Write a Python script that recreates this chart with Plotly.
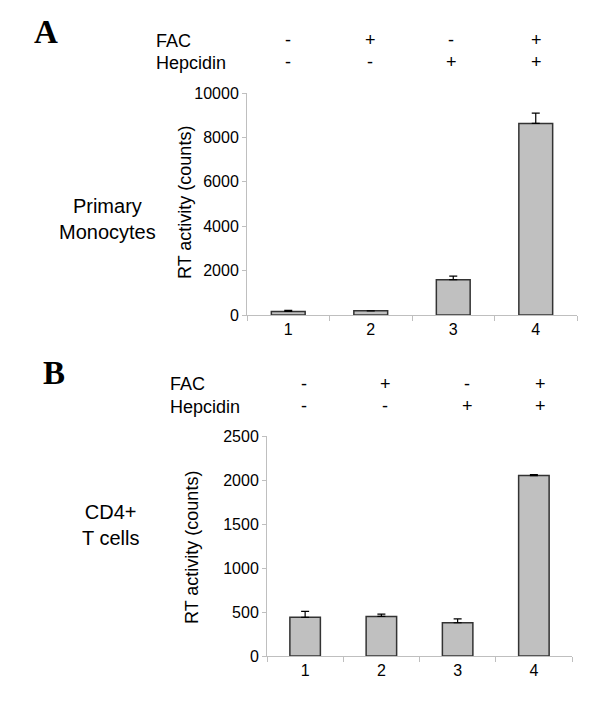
import plotly.graph_objects as go

# The page body adds an 8px margin; size the figure to fit the window and
# express positions in window pixels minus that offset.
OFF = 8
W, H = 600 - OFF, 724 - OFF

categories = ["1", "2", "3", "4"]
fac_signs = ["-", "+", "-", "+"]
hep_signs = ["-", "-", "+", "+"]

mono_values = [160, 190, 1590, 8630]
mono_errors = [45, 0, 160, 460]
mono_ticks = [0, 2000, 4000, 6000, 8000, 10000]

cd4_values = [440, 450, 378, 2050]
cd4_errors = [68, 25, 45, 10]
cd4_ticks = [0, 500, 1000, 1500, 2000, 2500]

FONT = "Liberation Sans, Arial, sans-serif"
BAR_FILL = "#c0c0c0"
BAR_LINE = "#333333"
AXIS_COL = "#bfbfbf"


def px(x):
    return (x - OFF) / W


def py(y):
    return 1 - (y - OFF) / H


fig = go.Figure()

fig.add_trace(go.Bar(
    x=categories, y=mono_values, width=[0.41] * 4,
    marker=dict(color=BAR_FILL, line=dict(color=BAR_LINE, width=1.5)),
    error_y=dict(type="data", array=mono_errors, arrayminus=[0] * 4, symmetric=False,
                 color="black", thickness=1.2, width=4),
    xaxis="x", yaxis="y", showlegend=False,
))
fig.add_trace(go.Bar(
    x=categories, y=cd4_values, width=[0.40] * 4,
    marker=dict(color=BAR_FILL, line=dict(color=BAR_LINE, width=1.5)),
    error_y=dict(type="data", array=cd4_errors, arrayminus=[0] * 4, symmetric=False,
                 color="black", thickness=1.2, width=4),
    xaxis="x2", yaxis="y2", showlegend=False,
))

xcommon = dict(showline=True, linecolor=AXIS_COL, linewidth=1, ticks="outside",
               tickcolor=AXIS_COL, ticklen=5, tickson="boundaries", showgrid=False,
               zeroline=False, tickfont=dict(family=FONT, size=16, color="black"),
               type="category", automargin=False)
ycommon = dict(showline=True, linecolor=AXIS_COL, linewidth=1, ticks="outside",
               tickcolor=AXIS_COL, ticklen=4, showgrid=False, zeroline=False,
               tickfont=dict(family=FONT, size=16, color="black"), automargin=False)

annotations = []


def ann(text, x, y, size=18, family=FONT, xanchor="center", angle=0, bold=False):
    annotations.append(dict(
        text=f"<b>{text}</b>" if bold else text, x=px(x), y=py(y), xref="paper", yref="paper",
        showarrow=False, xanchor=xanchor, yanchor="middle", textangle=angle,
        font=dict(family=family, size=size, color="black"),
    ))


# Panel A
ann("A", 46, 32, size=33, family="Liberation Serif, Times New Roman, serif", bold=True)
ann("FAC", 154, 41, xanchor="left")
ann("Hepcidin", 154, 63, xanchor="left")
for xpos, f, h in zip([288, 370, 451, 536], fac_signs, hep_signs):
    ann(f, xpos, 40)
    ann(h, xpos, 62)
ann("Primary<br>Monocytes", 107, 219, size=20)
ann("RT activity (counts)", 185, 203, angle=-90)

# Panel B
ann("B", 54, 373, size=33, family="Liberation Serif, Times New Roman, serif", bold=True)
ann("FAC", 168, 384, xanchor="left")
ann("Hepcidin", 168, 407, xanchor="left")
for xpos, f, h in zip([304, 385, 467, 540], fac_signs, hep_signs):
    ann(f, xpos, 384)
    ann(h, xpos, 406)
ann("CD4+<br>T cells", 110, 525, size=20)
ann("RT activity (counts)", 192, 548, angle=-90)

fig.update_layout(
    width=W, height=H, margin=dict(l=0, r=0, t=0, b=0, autoexpand=False),
    paper_bgcolor="white", plot_bgcolor="white",
    xaxis=dict(domain=[px(247), px(577)], anchor="y", **xcommon),
    yaxis=dict(domain=[py(315), py(93)], anchor="x", range=[0, 10000],
               tickvals=mono_ticks, ticktext=[str(v) for v in mono_ticks], **ycommon),
    xaxis2=dict(domain=[px(267), px(572)], anchor="y2", **xcommon),
    yaxis2=dict(domain=[py(656), py(436)], anchor="x2", range=[0, 2500],
                tickvals=cd4_ticks, ticktext=[str(v) for v in cd4_ticks], **ycommon),
    annotations=annotations,
    showlegend=False,
)

fig.write_html("out.html")
